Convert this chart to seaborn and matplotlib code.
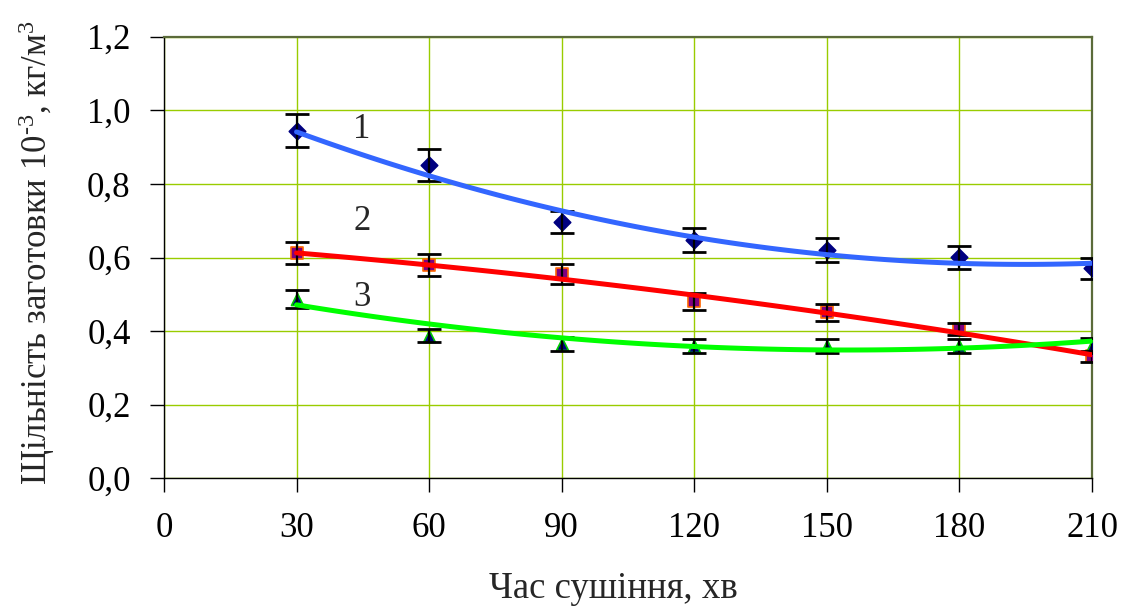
import numpy as np
import pandas as pd
import matplotlib
matplotlib.use("Agg")
import matplotlib.pyplot as plt
import seaborn as sns
from matplotlib.ticker import FuncFormatter

# ---- data ----
time_min = [30, 60, 90, 120, 150, 180, 210]

# measured points with error bars
dens1 = [0.944, 0.852, 0.697, 0.648, 0.621, 0.601, 0.571]
err1 = [0.045, 0.044, 0.030, 0.033, 0.032, 0.031, 0.029]
dens2 = [0.612, 0.580, 0.555, 0.481, 0.451, 0.405, 0.331]
err2 = [0.030, 0.030, 0.027, 0.023, 0.023, 0.016, 0.015]
dens3 = [0.488, 0.388, 0.365, 0.360, 0.360, 0.360, 0.360]
err3 = [0.025, 0.018, 0.018, 0.019, 0.019, 0.019, 0.020]

# trend lines (values of the drawn curves at each time)
trend1 = [0.944, 0.819, 0.725, 0.656, 0.609, 0.587, 0.582]
trend2 = [0.612, 0.580, 0.541, 0.499, 0.447, 0.395, 0.336]
trend3 = [0.472, 0.419, 0.381, 0.358, 0.349, 0.355, 0.372]

curve_labels = ["1", "2", "3"]
curve_label_y = [0.947, 0.697, 0.490]
curve_label_x = 44.8
x_ticks = [0, 30, 60, 90, 120, 150, 180, 210]
y_ticks = [0.0, 0.2, 0.4, 0.6, 0.8, 1.0, 1.2]
xlabel = "Час сушіння, хв"
ylabel = "Щільність заготовки 10$^{\\mathregular{\u20103}}$, кг/м$^{\\mathregular{3}}$"

sns.set_style("white")
plt.rcParams["font.family"] = ["Liberation Serif", "DejaVu Serif"]
plt.rcParams["mathtext.fontset"] = "custom"
plt.rcParams["mathtext.rm"] = "Liberation Serif"
plt.rcParams["mathtext.it"] = "Liberation Serif:italic"

fig = plt.figure(figsize=(11.3, 6.11), dpi=100)
ax = fig.add_axes([0.1451, 0.2172, 0.9664 - 0.1451, 0.9399 - 0.2172])

specs = [
    dict(y=dens1, e=err1, t=trend1, line="#3366FF", marker="D", face="#000080", edge="#000080", s=70),
    dict(y=dens2, e=err2, t=trend2, line="#FF0000", marker="s", face="#800080", edge="#FF6600", s=75),
    dict(y=dens3, e=err3, t=trend3, line="#00FF00", marker="^", face="#000080", edge="#00CC00", s=75),
]

for sp in specs:
    df = pd.DataFrame({"t": time_min, "d": sp["y"]})
    dft = pd.DataFrame({"t": time_min, "d": sp["t"]})
    sns.scatterplot(data=df, x="t", y="d", marker=sp["marker"], s=sp["s"],
                    color=sp["face"], edgecolor=sp["edge"], linewidth=1.2,
                    ax=ax, zorder=3, legend=False)
    ax.errorbar(time_min, sp["y"], yerr=sp["e"], fmt="none", ecolor="black",
                elinewidth=1.6, capsize=8.5, capthick=2.0, zorder=4)
    sns.regplot(data=dft, x="t", y="d", order=2, ci=None, scatter=False,
                truncate=True, line_kws=dict(color=sp["line"], lw=3.6, zorder=5), ax=ax)

for lab, yy in zip(curve_labels, curve_label_y):
    ax.text(curve_label_x, yy, lab, fontsize=25, ha="center", va="center", zorder=6)

ax.set_xlim(0, 210)
ax.set_ylim(0, 1.2)
ax.set_xticks(x_ticks)
ax.set_yticks(y_ticks)
ax.yaxis.set_major_formatter(FuncFormatter(lambda v, p: f"{v:.1f}".replace(".", ",")))
ax.xaxis.set_major_formatter(FuncFormatter(lambda v, p: f"{int(round(v))}"))

ax.grid(True, color="#99CC00", lw=1.0, zorder=0)
ax.set_axisbelow(True)
for side in ["top", "right"]:
    ax.spines[side].set_color("#5B6B3A")
    ax.spines[side].set_linewidth(1.6)
for side in ["left", "bottom"]:
    ax.spines[side].set_color("black")
    ax.spines[side].set_linewidth(1.0)

ax.tick_params(axis="both", which="major", direction="out", length=10, width=1.0,
               color="black", labelsize=25, labelcolor="black")
ax.tick_params(axis="x", pad=14)
ax.tick_params(axis="y", pad=14)
ax.tick_params(left=True, bottom=True)

ax.set_xlabel(xlabel, fontsize=26.5)
ax.set_ylabel(ylabel, fontsize=25)
ax.xaxis.set_label_coords(0.484, -0.21)
ax.yaxis.set_label_coords(-0.1154, 0.512)

fig.savefig("out.png", dpi=100, facecolor="white")
